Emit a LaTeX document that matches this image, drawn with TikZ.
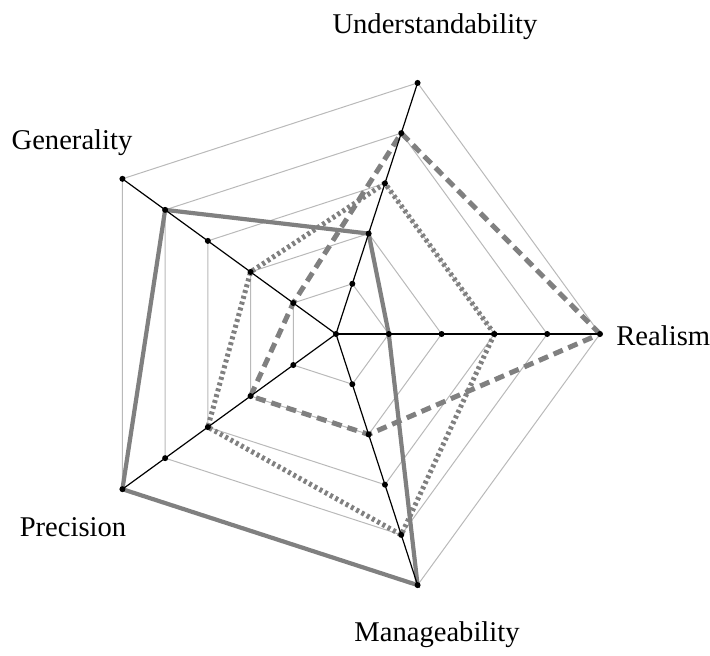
\documentclass[tikz,border=0pt]{standalone}
\usepackage{fontspec}
\setmainfont{Liberation Serif}
\begin{document}
\begin{tikzpicture}[x=0.5pt,y=0.5pt,
  gridline/.style={gray!55, line width=0.5pt},
  axisline/.style={black, line width=0.6pt},
  tickdot/.style={circle, fill=black, inner sep=0pt, minimum size=3pt},
  solidseries/.style={gray, line width=2.1pt, line join=miter},
  dashedseries/.style={gray, line width=2.5pt, dash pattern=on 5pt off 3pt},
  dottedseries/.style={gray, line width=2.5pt, dash pattern=on 1.5pt off 1.5pt},
  axislabel/.style={font=\fontsize{14.3}{16}\selectfont, inner sep=0pt}]
\useasboundingbox (-336,-321) rectangle (374,334);
\coordinate (o) at (0,0);
% axis i, level k
\foreach \i/\ang in {1/0,2/72,3/144,4/216,5/288}{
  \foreach \k in {1,...,5}{
    \coordinate (a\i-\k) at (\ang:\k*52.8);
  }
}
% grid pentagons
\foreach \k in {1,...,5}{
  \draw[gridline] (a1-\k) -- (a2-\k) -- (a3-\k) -- (a4-\k) -- (a5-\k) -- cycle;
}
% data series
\draw[solidseries] (a1-1) -- (a2-2) -- (a3-4) -- (a4-5) -- (a5-5) -- cycle;
\draw[dashedseries] (a1-5) -- (a2-4) -- (a3-1) -- (a4-2) -- (a5-2) -- cycle;
\draw[dottedseries] (a1-3) -- (a2-3) -- (a3-2) -- (a4-3) -- (a5-4) -- cycle;
% axes and level marks
\foreach \i in {1,...,5}{
  \draw[axisline] (o) -- (a\i-5);
  \foreach \k in {1,...,5}{
    \node[tickdot] (d\i-\k) at (a\i-\k) {};
  }
}
\node[tickdot] (d0) at (o) {};
% axis labels
\node[axislabel, anchor=base] (lu) at (99,301) {Understandability};
\node[axislabel, anchor=base] (lg) at (-264,185) {Generality};
\node[axislabel, anchor=base west] (lr) at (280,-11) {Realism};
\node[axislabel, anchor=base] (lp) at (-263,-202) {Precision};
\node[axislabel, anchor=base] (lm) at (101,-307) {Manageability};
\end{tikzpicture}
\end{document}
